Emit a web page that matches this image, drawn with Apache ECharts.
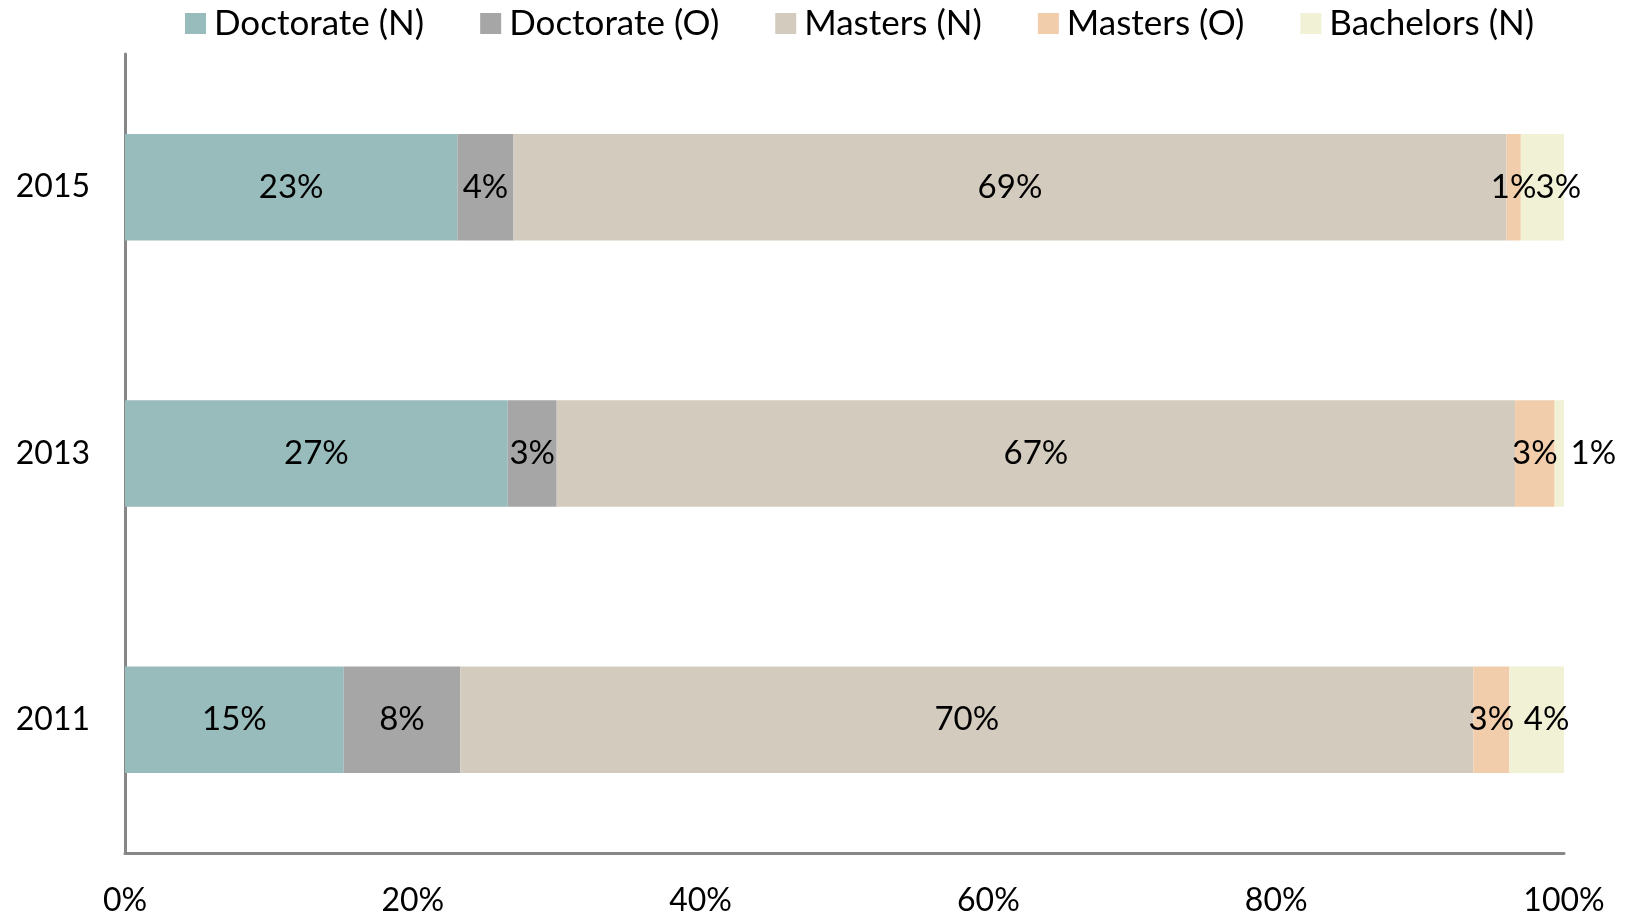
<!DOCTYPE html>
<html>
<head>
<meta charset="utf-8">
<script src="https://cdn.jsdelivr.net/npm/echarts@6/dist/echarts.min.js"></script>
<style>
html,body{margin:0;padding:0;background:#fff;}
#chart{width:1629px;height:918px;}
</style>
</head>
<body>
<div id="chart"></div>
<script>
const years = ['2011', '2013', '2015'];
const seriesNames = ['Doctorate (N)', 'Doctorate (O)', 'Masters (N)', 'Masters (O)', 'Bachelors (N)'];
const doctorateN = [15.2, 26.6, 23.1];
const doctorateO = [8.1, 3.4, 3.9];
const mastersN = [70.4, 66.6, 69.0];
const mastersO = [2.5, 2.75, 1.0];
const bachelorsN = [3.8, 0.65, 3.0];
const xTicks = [0, 20, 40, 60, 80, 100];

const colors = ['#98BBBB', '#A6A6A6', '#D4CBBF', '#F1CDAB', '#F1F2D5'];
const FONT = 'Lato';
const values = [doctorateN, doctorateO, mastersN, mastersO, bachelorsN];

// label nudges for the last series (styling only), by category index
const bachelorsDx = [10, 34, 16];

const series = seriesNames.map((name, si) => {
  const s = {
    name: name,
    type: 'bar',
    stack: 'total',
    barWidth: '40%',
    itemStyle: { color: colors[si] },
    label: {
      show: true,
      position: 'inside',
      color: '#000',
      fontFamily: FONT,
      fontSize: 33,
      formatter: p => Math.round(p.value) + '%'
    },
    data: values[si].slice()
  };
  if (si === 4) {
    s.labelLayout = p => ({ dx: bachelorsDx[p.dataIndex], hideOverlap: false });
  }
  return s;
});

const chart = echarts.init(document.getElementById('chart'), null, { renderer: 'canvas' });
chart.setOption({
  animation: false,
  backgroundColor: '#fff',
  legend: {
    data: seriesNames,
    left: 180,
    top: 1,
    itemWidth: 21,
    itemHeight: 21,
    itemGap: 56,
    icon: 'rect',
    textStyle: { fontFamily: FONT, fontSize: 35, color: '#000', padding: [0, 0, 0, 3] }
  },
  grid: { left: 125, right: 65, top: 54, bottom: 65 },
  xAxis: {
    type: 'value',
    min: 0,
    max: 100,
    interval: 20,
    axisLine: { show: true, lineStyle: { color: '#878787', width: 3 } },
    axisTick: { show: false },
    splitLine: { show: false },
    axisLabel: {
      margin: 32,
      fontFamily: FONT,
      fontSize: 32,
      color: '#000',
      formatter: v => xTicks.includes(v) ? v + '%' : ''
    }
  },
  yAxis: {
    type: 'category',
    data: years,
    axisLine: { show: true, lineStyle: { color: '#878787', width: 3 } },
    axisTick: { show: false },
    axisLabel: { margin: 35, fontFamily: FONT, fontSize: 32, color: '#000' }
  },
  series: series
});
</script>
</body>
</html>
